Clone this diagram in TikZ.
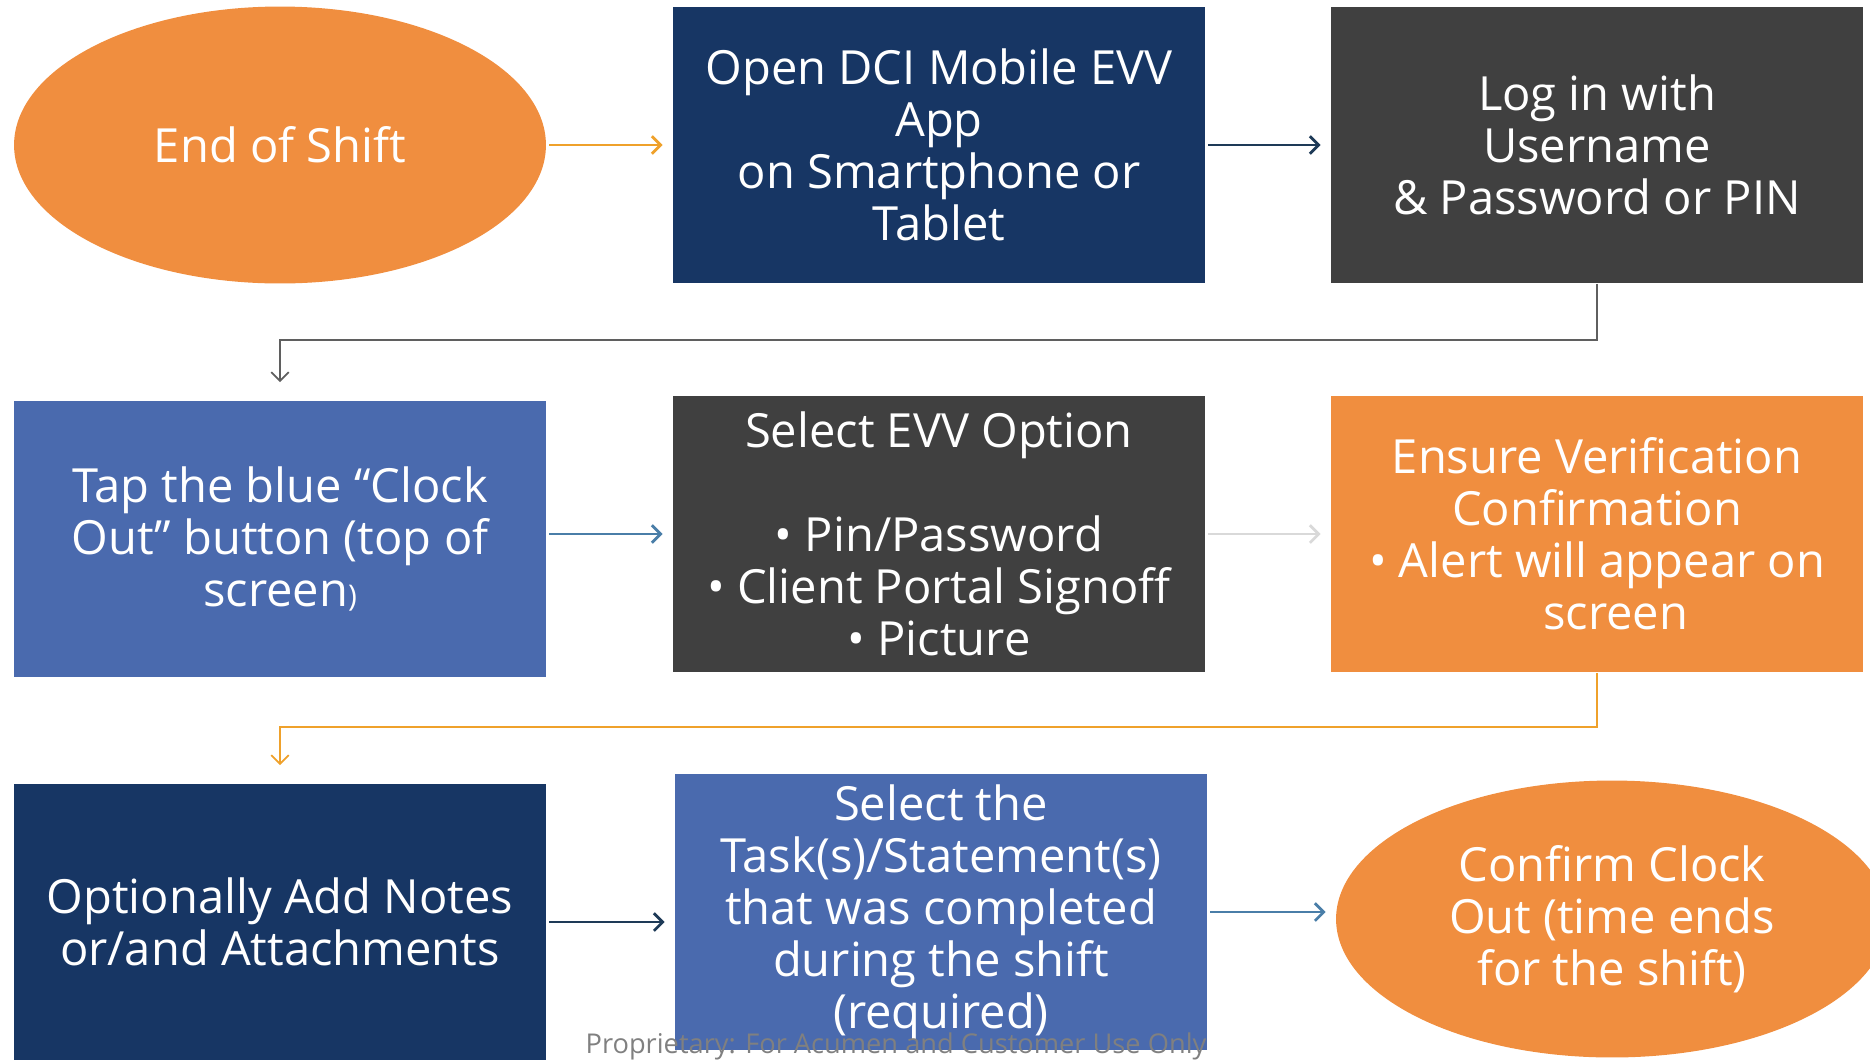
\documentclass[tikz,border=0pt]{standalone}
\usepackage{fontspec}
\setmainfont{Open Sans}
\usepackage{xcolor}
\usetikzlibrary{shapes, arrows.meta, positioning}

\definecolor{accorange}{HTML}{F08E3F}
\definecolor{accnavy}{HTML}{173664}
\definecolor{accgrey}{HTML}{404040}
\definecolor{accblue}{HTML}{4A6AAE}
\definecolor{linegold}{HTML}{EFA12B}
\definecolor{linenavy}{HTML}{1E3A57}
\definecolor{linesteel}{HTML}{4A7EA8}
\definecolor{linelight}{HTML}{D9D9D9}
\definecolor{lineslate}{HTML}{5F5F5F}
\definecolor{footgrey}{HTML}{808080}

\tikzset{
  >={Straight Barb[length=5pt, width=10pt]},
  stepbox/.style={rectangle, minimum width=10.64cm, minimum height=5.54cm, inner sep=0pt,
    text=white, align=center, font=\fontsize{26.8}{29.6}\selectfont},
  stepoval/.style={stepbox, ellipse},
  flow/.style={->, line width=1.6pt, shorten <=0.06cm, shorten >=0.2cm},
  elbow/.style={->, line width=1pt, shorten >=0.36cm},
}

\begin{document}
\begin{tikzpicture}[x=0.02cm, y=-0.02cm]
		\useasboundingbox (0,0) rectangle (1870,1059);
		\clip (0,0) rectangle (1870,1059);
		% first row
		\node[stepoval, fill=accorange] (shift) at (280,145) {End of Shift};
		\node[stepbox, fill=accnavy] (open) at (939,145) {Open DCI Mobile EVV\\App\\on Smartphone or\\Tablet};
		\node[stepbox, fill=accgrey] (login) at (1597,145) {Log in with\\Username\\\& Password or PIN};
		% second row
		\node[stepbox, fill=accblue] (tap) at (280,539) {Tap the blue “Clock\\Out” button (top of\\screen{\fontsize{17}{20}\selectfont)}};
		\node[stepbox, fill=accgrey] (option) at (939,534) {Select EVV Option\\[29.6pt]\textbullet\ Pin/Password\\\textbullet\ Client Portal Signoff\\\textbullet\ Picture};
		\node[stepbox, fill=accorange] (ensure) at (1597,534) {Ensure Verification\\Confirmation\\\textbullet\ Alert will appear on\\\hspace*{0.8em}screen};
		% third row
		\node[stepbox, fill=accnavy] (notes) at (280,922) {Optionally Add Notes\\or/and Attachments};
		\node[stepbox, fill=accblue] (tasks) at (941,912) {Select the\\Task(s)/Statement(s)\\that was completed\\during the shift\\(required)};
		\node[stepoval, fill=accorange, minimum width=11.04cm] (confirm) at (1612,919) {Confirm Clock\\Out (time ends\\for the shift)};
		\node[text=footgrey, font=\fontsize{15.5}{18}\selectfont] (footer) at (896,1046) {Proprietary: For Acumen and Customer Use Only};
		% arrows
		\draw[flow, color=linegold] (shift) -- (open);
		\draw[flow, color=linenavy] (open) -- (login);
		\draw[elbow, color=lineslate] (login.south) -- ++(0,56) -| (tap.north);
		\draw[flow, color=linesteel] (tap.east |- option) -- (option.west);
		\draw[flow, color=linelight] (option) -- (ensure);
		\draw[elbow, color=linegold] (ensure.south) -- ++(0,54) -| (notes.north);
		\draw[flow, color=linenavy] (notes.east) -- (notes.east -| tasks.west);
		\draw[flow, color=linesteel] (tasks.east) -- (tasks.east -| confirm.west);
		\end{tikzpicture}
\end{document}
